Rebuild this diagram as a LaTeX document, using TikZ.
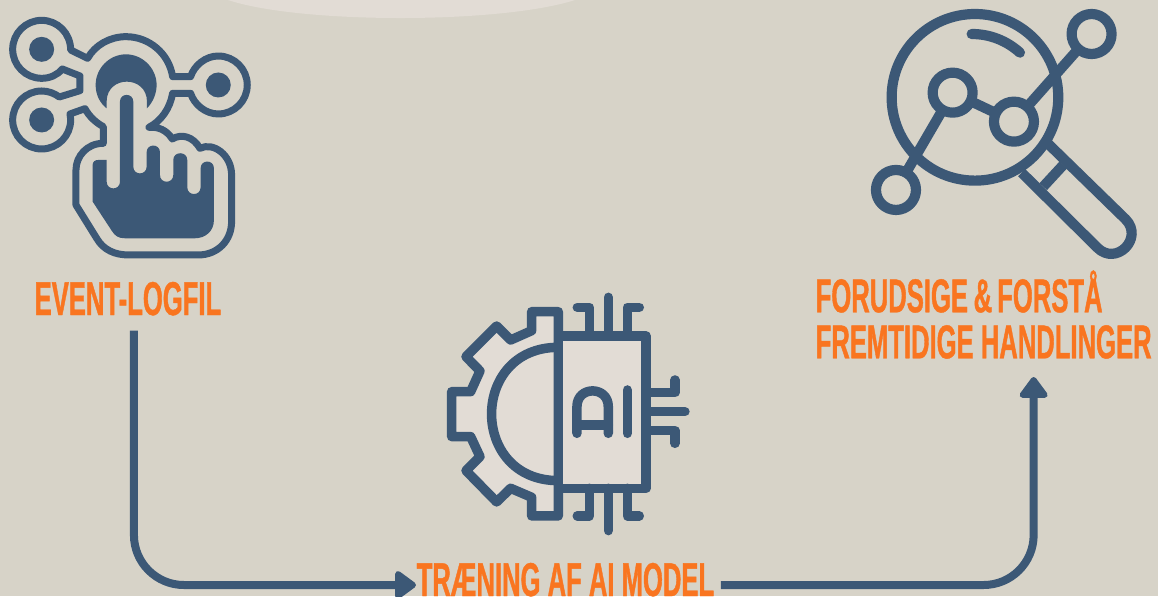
\documentclass[tikz,border=0pt]{standalone}
\usepackage{fontspec}
\usepackage{tikz}
\usetikzlibrary{arrows.meta}
\newfontfamily\etiquetafont[FakeStretch=0.54, BoldFeatures={FakeBold=0.8}]{Liberation Sans}
\definecolor{fondo}{HTML}{D7D3C8}
\definecolor{claro}{HTML}{E2DCD5}
\definecolor{azul}{HTML}{3C5876}
\definecolor{naranja}{HTML}{F97520}

\begin{document}
\begin{tikzpicture}[x=0.1mm, y=-0.1mm,
  icono/.style={x=0.03333mm, y=-0.03333mm},
  trazo/.style={draw=azul, line width=0.7mm, line join=round},
  trazoia/.style={draw=azul, line width=0.95mm, line join=round, line cap=round},
  trazolupa/.style={draw=azul, line width=1.02mm, line join=round},
  punto/.style={fill=azul, circle, minimum size=2.5mm, inner sep=0pt},
  etiqueta/.style={text=naranja, inner sep=0pt, align=left, text depth=0pt, text height=3.4mm, font=\etiquetafont\bfseries\fontsize{13.5pt}{13.1pt}\selectfont},
  flujo/.style={-{Triangle[length=2.3mm, width=3.2mm, round]}, draw=azul, line width=0.8mm, rounded corners=5mm}]
\useasboundingbox (0,0) rectangle (1158,596);
\fill[fondo] (0,0) rectangle (1158,596);
\fill[claro] (228,0) .. controls (300,24) and (500,24) .. (575,0) -- cycle;

\node[etiqueta, anchor=base west] (logfil) at (34,315) {EVENT-LOGFIL};
\node[etiqueta, anchor=base west] (traening) at (416,596) {TRÆNING AF AI MODEL};
\node[etiqueta, anchor=south west] (forudsige) at (815,359) {FORUDSIGE\kern-0.15mm{} \&\kern-0.2mm{} FORSTÅ\\ FREMTIDIGE HANDLINGER};

\begin{scope}[icono]
\draw[trazo] (212,150) .. controls (212,100) and (173,61) .. (125,61) .. controls (77,61) and (38,100) .. (38,148)
  .. controls (38,196) and (77,235) .. (125,235) .. controls (150,235) and (172,225) .. (187,207)
  -- (240,228) -- (240,272) -- (178,291) .. controls (163,280) and (145,273) .. (125,273) .. controls (77,273) and (38,312) .. (38,360)
  .. controls (38,408) and (77,447) .. (125,447) .. controls (173,447) and (212,408) .. (212,360) .. controls (212,354) and (211,348) .. (210,342)
  -- (255,326) .. controls (268,350) and (288,368) .. (310,380) -- (310,430) .. controls (260,430) and (228,470) .. (228,510)
  -- (228,615) -- (290,715) .. controls (310,750) and (345,765) .. (385,765) -- (595,765) .. controls (655,765) and (695,720) .. (695,665)
  -- (695,525) .. controls (695,465) and (640,425) .. (600,445) .. controls (580,410) and (545,400) .. (517,417)
  .. controls (500,390) and (475,380) .. (447,382) .. controls (485,362) and (510,325) .. (518,280) -- (572,280)
  .. controls (583,314) and (617,342) .. (655,342) .. controls (703,342) and (742,303) .. (742,255)
  .. controls (742,207) and (703,168) .. (655,168) .. controls (617,168) and (583,196) .. (572,230) -- (518,230)
  .. controls (507,160) and (447,110) .. (378,110) .. controls (330,110) and (285,135) .. (263,175) -- cycle;
\node[punto] (nodoa) at (125,148) {};
\node[punto] (nodob) at (125,360) {};
\node[punto] (nodoc) at (655,255) {};
\fill[azul] (320,325) .. controls (298,308) and (287,282) .. (287,255) .. controls (287,205) and (328,163) .. (378,163)
  .. controls (428,163) and (470,205) .. (470,255) .. controls (470,282) and (458,308) .. (441,325) -- (441,305)
  .. controls (441,225) and (320,225) .. (320,305) -- cycle;
\fill[azul] (278,495) .. controls (278,485) and (285,480) .. (295,480) -- (320,480) -- (320,545) .. controls (320,572) and (360,572) .. (360,545)
  -- (360,305) .. controls (360,278) and (400,278) .. (400,305) -- (400,500) .. controls (400,527) and (440,527) .. (440,500)
  -- (440,457) .. controls (440,430) and (480,430) .. (480,457) -- (480,525) .. controls (480,552) and (520,552) .. (520,525)
  -- (520,480) .. controls (520,453) and (562,453) .. (562,480) -- (562,562) .. controls (562,589) and (602,589) .. (602,562)
  -- (602,505) .. controls (602,478) and (642,478) .. (642,505) -- (642,660) .. controls (642,695) and (615,715) .. (585,715)
  -- (375,715) .. controls (355,715) and (345,708) .. (335,692) -- (278,605) -- cycle;
\end{scope}

\begin{scope}[shift={(430,290)}, icono]
\fill[claro] (385,65) -- (305,65) -- (305,122) -- (242,150) -- (200,108) -- (108,200) -- (150,243) -- (122,305) -- (65,305)
  -- (65,440) -- (122,440) -- (150,500) -- (108,542) -- (200,636) -- (242,595) -- (305,622) -- (305,678) -- (385,678) -- cycle;
\draw[trazoia] (385,65) -- (305,65) -- (305,122) -- (242,150) -- (200,108) -- (108,200) -- (150,243) -- (122,305) -- (65,305)
  -- (65,440) -- (122,440) -- (150,500) -- (108,542) -- (200,636) -- (242,595) -- (305,622) -- (305,678) -- (385,678) -- cycle;
\draw[trazoia] (385,172) .. controls (118,172) and (118,572) .. (385,572);
\draw[trazoia, fill=claro] (385,138) rectangle (648,595);
\foreach \xa/\xb/\yb in {442/478/52, 628/592/52} \draw[trazoia] (\xa,\yb) -- (\xb,\yb) -- (\xb,138);
\foreach \xa/\xb/\yb in {442/478/678, 628/592/678} \draw[trazoia] (\xa,\yb) -- (\xb,\yb) -- (\xb,595);
\draw[trazoia] (535,22) -- (535,138);
\draw[trazoia] (535,722) -- (535,595);
\draw[trazoia] (765,365) -- (648,365);
\draw[trazoia] (735,270) -- (735,308) -- (648,308);
\draw[trazoia] (735,460) -- (735,422) -- (648,422);
\draw[trazoia] (441,430) -- (441,350) .. controls (441,287) and (535,287) .. (535,350) -- (535,430);
\draw[trazoia] (441,405) -- (535,405);
\draw[trazoia] (592,300) -- (592,430);
\end{scope}

\begin{scope}[shift={(860,0)}, icono]
\coordinate (puntoa) at (108,570);
\coordinate (puntob) at (278,278);
\coordinate (puntoc) at (462,365);
\coordinate (puntod) at (695,102);
\draw[trazolupa] (345,292) circle (250);
\draw[trazolupa, line cap=round] (335,102) .. controls (390,102) and (440,122) .. (480,158);
\draw[trazolupa] (puntoa) -- (puntob) -- (puntoc) -- (puntod);
\foreach \p in {puntoa, puntob, puntoc, puntod} \draw[trazolupa, fill=fondo] (\p) circle (60);
\draw[trazolupa] (565,432) -- (797,658) .. controls (853,715) and (768,800) .. (712,743) -- (485,518);
\draw[trazolupa] (610,495) -- (550,560);
\end{scope}

\draw[flujo] ([xshift=0.6mm]logfil.south) ++(0,15) |- ([yshift=-0.6mm]traening.west);
\draw[flujo, shorten >=1.8mm, shorten <=0.6mm] ([yshift=-0.6mm]traening.east) -| ([xshift=5mm]forudsige.south);
\end{tikzpicture}
\end{document}
